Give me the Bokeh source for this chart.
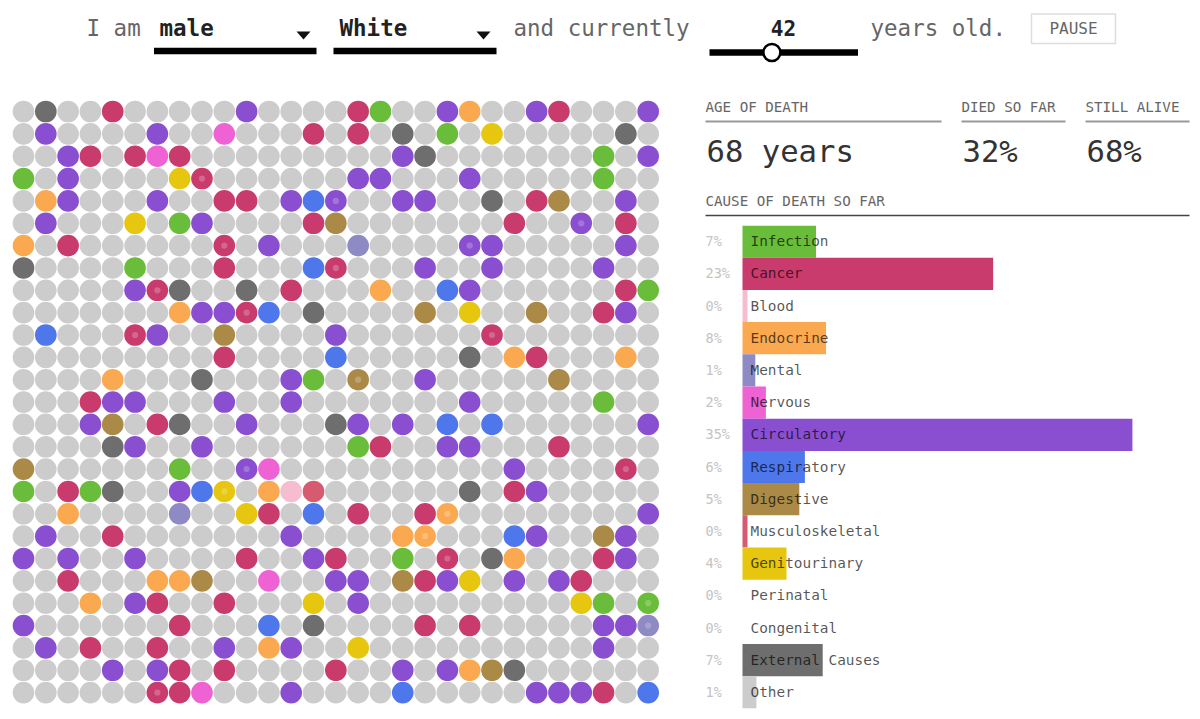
from bokeh.plotting import figure
from bokeh.layouts import column, row
from bokeh.models import Range1d, FactorRange, ColumnDataSource
from bokeh.core.properties import value
from bokeh.embed import file_html
from bokeh.resources import INLINE

CATEGORIES = ["Infection", "Cancer", "Blood", "Endocrine", "Mental", "Nervous", "Circulatory",
              "Respiratory", "Digestive", "Musculoskeletal", "Genitourinary", "Perinatal",
              "Congenital", "External Causes", "Other"]
BAR_VALUES = [6.6, 22.5, 0.45, 7.5, 1.15, 2.1, 35.0, 5.6, 5.1, 0.45, 3.95, 0, 0, 7.2, 1.25]
PCT_LABELS = ["7%", "23%", "0%", "8%", "1%", "2%", "35%", "6%", "5%", "0%", "4%", "0%", "0%", "7%", "1%"]
CAUSE_CODES = ["I", "C", "B", "E", "M", "N", "P", "S", "D", "K", "G", "F", "O", "X", "."]
CAUSE_COLORS = ["#6ABD3A", "#C93B6D", "#F6BDD1", "#FBA950", "#8E8AC4", "#EE62D4", "#8A4FD0",
                "#4E77EC", "#AB8A48", "#D65A70", "#E6C60F", "#FFFFFF", "#FFFFFF", "#6E6E6E", "#CCCCCC"]
# One string per row; a lowercase letter marks a person who has just died (pale centre).
GRID_ROWS = [
    ".X..C.....P....CI..PE..PC...P",
    ".P....P..N...C.C.X.I.G.....X.",
    "..PC.CNC.........PX.......I.P",
    "I.P....Gc......PP...P.....I..",
    ".EP...P..CC.PSp..PP..X.CD..P.",
    ".P...G.IP....CD.......C..p.C.",
    "E.C......c.P...M....pP.....P.",
    "X....I...C...Sc...P..P....P..",
    ".....PcX..X.C...E..SP......CI",
    ".......EPPcS.X....D.G..D..CP.",
    ".S...cP..D....P......c.......",
    ".........C....S.....X.EC...E.",
    "....E...X...PI.d..P.....D....",
    "...CPP...P..P.......P.....I..",
    "...PD.CX..P...XP.P.S.S......P",
    "....XP..P......IC..PP...C....",
    "D......I..pN..........P....c.",
    "I.CIX..PSg.EBK......X.CP.....",
    "..E....M..GC.S.C..Ce........P",
    ".P..C.......P....Ee...SP..DP.",
    "P.P..P....C..PC..I.c.XE...CP.",
    "..C...EED..N..PP.DCPG.P.PC...",
    "...E.PC..C...G.P.........GI.i",
    "P......C...S.X....C.C.....PPm",
    ".P.C..C..P.EP..G..........P..",
    "....P.PC.C....C..P.PEDX......",
    "......cCN...P....S.....PPPC.S",
]
HEADER_WORDS = ["I am", "and currently", "years old."]
SELECTIONS = ["male", "White"]
CURRENT_AGE = 42
AGE_MAX = 100
STAT_TITLES = ["AGE OF DEATH", "DIED SO FAR", "STILL ALIVE"]
STAT_VALUES = ["68 years", "32%", "68%"]
BREAKDOWN_TITLE = "CAUSE OF DEATH SO FAR"

MONO = value("'DejaVu Sans Mono', monospace")
color_of = dict(zip(CAUSE_CODES, CAUSE_COLORS))


def bare(width, height, x_range, y_range, **kw):
    p = figure(width=width, height=height, x_range=x_range, y_range=y_range,
               output_backend="svg", toolbar_location=None, min_border=0,
               x_axis_location=None, y_axis_location=None, outline_line_color=None, **kw)
    p.grid.visible = False
    return p


def put(p, x, y, txt, size, color="#555555", style="normal", align="left"):
    p.text(x=[x], y=[y], text=[txt], text_font=MONO, text_font_size=f"{size}px",
           text_color=color, text_font_style=style, text_align=align, text_baseline="middle")


# ---------- header (page-pixel coordinates) ----------
head = bare(1192, 98, Range1d(0, 1192), Range1d(98, 0))
put(head, 86, 27, HEADER_WORDS[0], 22.5, "#666666")
put(head, 159, 27, SELECTIONS[0], 22.5, "#222222", "bold")
put(head, 339, 27, SELECTIONS[1], 22.5, "#222222", "bold")
put(head, 513, 27, HEADER_WORDS[1], 22.5, "#666666")
put(head, 870, 27, HEADER_WORDS[2], 22.5, "#666666")
for x0, x1 in ((153.5, 316), (333, 496)):
    head.segment(x0=[x0], y0=[50.5], x1=[x1], y1=[50.5], line_color="#000000", line_width=6.5)
    head.patch(x=[x1 - 20, x1 - 6, x1 - 13], y=[31, 31, 39], color="#111111", line_width=0)
track0, track1 = 709, 857.5
knob_x = track0 + (track1 - track0) * CURRENT_AGE / AGE_MAX
head.segment(x0=[track0], y0=[52], x1=[track1], y1=[52], line_color="#000000", line_width=6.5)
head.scatter(x=[knob_x], y=[52], size=17, marker="circle", fill_color="#FFFFFF",
             line_color="#000000", line_width=2.5)
put(head, 783, 27, str(CURRENT_AGE), 21, "#222222", "bold", "center")
head.quad(left=[1031], right=[1115], top=[13.5], bottom=[43], fill_color="#FFFFFF",
          line_color="#DDDDDD", line_width=1.5)
put(head, 1073, 28, "PAUSE", 16, "#666666", align="center")

# ---------- dot grid ----------
cols, rows_, colors, fresh_x, fresh_y = [], [], [], [], []
for r, line in enumerate(GRID_ROWS):
    for c, code in enumerate(line):
        cols.append(c)
        rows_.append(r)
        colors.append(color_of[code.upper()])
        if code.islower():
            fresh_x.append(c)
            fresh_y.append(r)
dots = bare(690, 613, Range1d(-23 / 22.31, 667 / 22.31), Range1d(600 / 22.35, -13 / 22.35))
dots.circle(x="x", y="y", radius=0.485, fill_color="c", line_color=None,
            source=ColumnDataSource(dict(x=cols, y=rows_, c=colors)))
dots.circle(x=fresh_x, y=fresh_y, radius=0.14, fill_color="#FFFFFF", fill_alpha=0.22, line_color=None)

# ---------- stats ----------
stats = bare(502, 127, Range1d(690, 1192), Range1d(225, 98))
for x0, x1, title, val in zip((705, 961, 1085), (941, 1065, 1189), STAT_TITLES, STAT_VALUES):
    put(stats, x0, 106, title, 14.2, "#666666")
    stats.segment(x0=[x0], y0=[121], x1=[x1], y1=[121], line_color="#999999", line_width=1.8)
    put(stats, x0 + 1, 151, val, 30.6, "#333333")
put(stats, 705, 200, BREAKDOWN_TITLE, 14.2, "#666666")
stats.segment(x0=[705], y0=[215], x1=[1189], y1=[215], line_color="#444444", line_width=1.5)

# ---------- bars ----------
px_per_pct = 11.14
bars = bare(502, 486, Range1d(-52 / px_per_pct, 450 / px_per_pct),
            FactorRange(factors=CATEGORIES[::-1], range_padding=0, factor_padding=0),
            min_border_bottom=3)
src = ColumnDataSource(dict(cat=CATEGORIES, val=BAR_VALUES, col=CAUSE_COLORS, pct=PCT_LABELS,
                            zero=[0] * len(CATEGORIES)))
bars.hbar(y="cat", left="zero", right="val", height=1.0, fill_color="col", line_color=None, source=src)
bars.text(x="zero", y="cat", text="cat", x_offset=8, y_offset=-0.5, text_font=MONO, text_font_size="14.4px",
          text_color="#000000", text_alpha=0.68, text_baseline="middle", source=src)
bars.text(x="zero", y="cat", text="pct", x_offset=-37, y_offset=-0.5, text_font=MONO,
          text_font_size="13.5px", text_color="#C4C4C4", text_baseline="middle", source=src)

page = column(head, row(dots, column(stats, bars, spacing=0), spacing=0), spacing=0)
open("out.html", "w").write(file_html(page, INLINE))
